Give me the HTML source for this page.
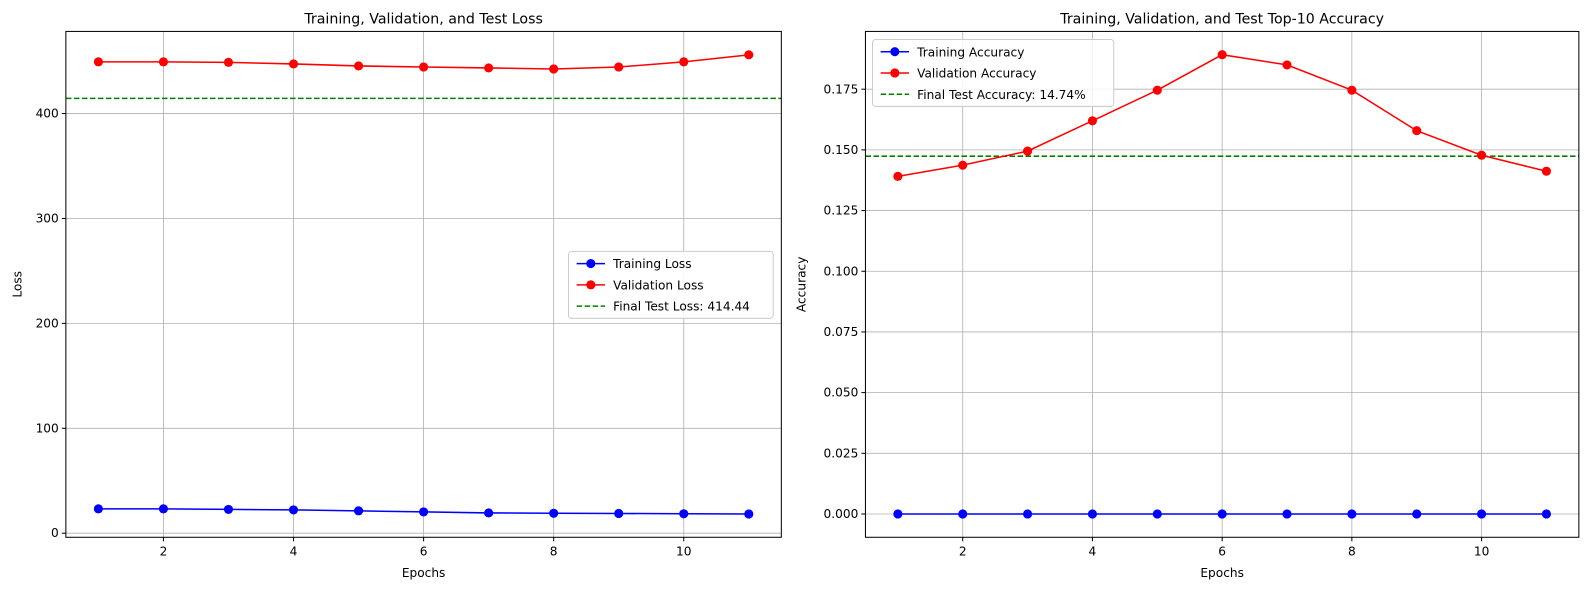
<!DOCTYPE html>
<html><head><meta charset="utf-8"><style>
html,body{margin:0;padding:0;background:#fff;}
svg{display:block;font-family:"DejaVu Sans","Liberation Sans",sans-serif;}
</style></head><body>
<svg id="fig" width="1589" height="590" viewBox="0 0 1568 582" preserveAspectRatio="none" xmlns="http://www.w3.org/2000/svg"></svg>
<script>
const epochs=[1,2,3,4,5,6,7,8,9,10,11];
const trainLoss=[23.2,23.2,22.7,22.2,21.3,20.3,19.3,19.0,18.8,18.5,18.3];
const valLoss=[449.3,449.3,448.8,447.3,445.4,444.4,443.5,442.5,444.4,449.3,456.0];
const testLoss=414.44;
const trainAcc=[0,0,0,0,0,0,0,0,0,0,0];
const valAcc=[0.1391,0.1437,0.1495,0.1620,0.1746,0.1892,0.1850,0.1746,0.1579,0.1478,0.1412];
const testAcc=0.1474;
const xTicks=[2,4,6,8,10];
const lossTicks=[0,100,200,300,400];
const accTicks=[0,0.025,0.05,0.075,0.1,0.125,0.15,0.175];
const NS="http://www.w3.org/2000/svg";
const svg=document.getElementById('fig');
function mk(tag,attrs,parent){const e=document.createElementNS(NS,tag);for(const k in attrs)e.setAttribute(k,attrs[k]);(parent||svg).appendChild(e);return e;}
function panel(o){
  const g=mk('g',{});
  
  
  const X=v=>o.L+(v-0.5)/11*(o.R-o.L);
  const Y=v=>o.B-(v-o.ymin)/(o.ymax-o.ymin)*(o.B-o.T);
  xTicks.forEach(t=>{const l=mk('line',{x1:X(t),x2:X(t),y1:o.T,y2:o.B,stroke:'#b0b0b0','stroke-width':0.8},g);});
  o.yTicks.forEach(t=>{const l=mk('line',{x1:o.L,x2:o.R,y1:Y(t),y2:Y(t),stroke:'#b0b0b0','stroke-width':0.8},g);});
  xTicks.forEach(t=>{mk('line',{x1:X(t),x2:X(t),y1:o.B,y2:o.B+4,stroke:'#000'},g);const tx=mk('text',{x:X(t),y:o.B+18,'text-anchor':'middle','font-size':12},g);tx.textContent=t;});
  o.yTicks.forEach(t=>{mk('line',{x1:o.L-4,x2:o.L,y1:Y(t),y2:Y(t),stroke:'#000'},g);const tx=mk('text',{x:o.L-7,y:Y(t)+4,'text-anchor':'end','font-size':12},g);tx.textContent=o.fmt(t);});
  const tl=mk('line',{x1:o.L,x2:o.R,y1:Y(o.test),y2:Y(o.test),stroke:'green','stroke-width':1.5,'stroke-dasharray':'5.5,2.4'},g);
  
  [[o.train,'blue','training-series'],[o.val,'red','validation-series']].forEach(([d,c,n])=>{
    const p=mk('polyline',{points:d.map((v,i)=>X(epochs[i])+','+Y(v)).join(' '),fill:'none',stroke:c,'stroke-width':1.5},g);
    
    d.forEach((v,i)=>{const c2=mk('circle',{cx:X(epochs[i]),cy:Y(v),r:4.5,fill:c},g);});
  });
  const fr=mk('rect',{x:o.L,y:o.T,width:o.R-o.L,height:o.B-o.T,fill:'none',stroke:'#000','stroke-width':1},g);
  
  const ti=mk('text',{x:(o.L+o.R)/2,y:o.T-8,'text-anchor':'middle','font-size':14},g);ti.textContent=o.title;
  
  const xl=mk('text',{x:(o.L+o.R)/2,y:o.B+39,'text-anchor':'middle','font-size':12},g);xl.textContent='Epochs';
  
  const yl=mk('text',{x:0,y:0,'text-anchor':'middle','font-size':12,transform:`translate(${o.ylx},${(o.T+o.B)/2}) rotate(-90)`},g);yl.textContent=o.ylabel;
  
  const lg=mk('g',{},g);
  mk('rect',{x:o.lx,y:o.ly,width:o.lw,height:66,rx:3,fill:'#fff','fill-opacity':0.85,stroke:'#ccc'},lg);
  o.labels.forEach((lab,i)=>{
    const yy=o.ly+12+i*21;const col=['blue','red','green'][i];
    mk('line',{x1:o.lx+8,x2:o.lx+36,y1:yy,y2:yy,stroke:col,'stroke-width':1.5,'stroke-dasharray':i==2?'5.5,2.4':'none'},lg);
    if(i<2)mk('circle',{cx:o.lx+22,cy:yy,r:4.5,fill:col},lg);
    const t=mk('text',{x:o.lx+44,y:yy+4.5,'font-size':12},lg);t.textContent=lab;
    
  });
}
panel({name:'loss-chart',L:65,R:771,T:31,B:530,ymin:-3.9,ymax:478.3,yTicks:lossTicks,fmt:t=>String(t),test:testLoss,train:trainLoss,val:valLoss,
  title:'Training, Validation, and Test Loss',ylabel:'Loss',ylx:21,lx:561,ly:248,lw:202,
  labels:['Training Loss','Validation Loss','Final Test Loss: 414.44']});
panel({name:'accuracy-chart',L:854,R:1558,T:31,B:530,ymin:-0.0096,ymax:0.1988,yTicks:accTicks,fmt:t=>t.toFixed(3),test:testAcc,train:trainAcc,val:valAcc,
  title:'Training, Validation, and Test Top-10 Accuracy',ylabel:'Accuracy',ylx:795,lx:861,ly:39,lw:238,
  labels:['Training Accuracy','Validation Accuracy','Final Test Accuracy: 14.74%']});
</script>
</body></html>
